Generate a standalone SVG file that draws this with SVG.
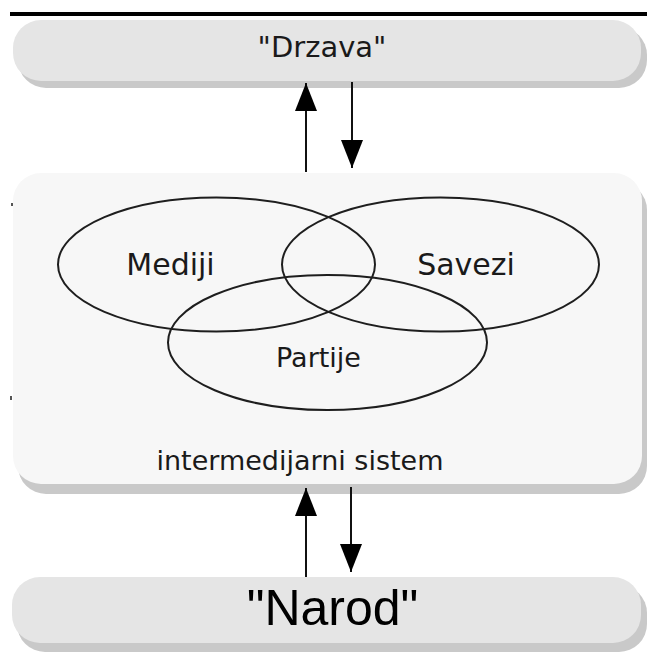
<svg xmlns="http://www.w3.org/2000/svg" width="647" height="652" viewBox="0 0 647 652">
  <defs>
    <style>
      .shadow { fill: #c9c9c9; }
      .pill { fill: #e5e5e5; }
      .panel { fill: #f7f7f7; }
      .venn { fill: none; stroke: #1e1e1e; stroke-width: 2; }
      .conn { stroke: #111111; stroke-width: 2; fill: none; marker-end: url(#head); }
      .lbl { font-family: "DejaVu Sans", Verdana, sans-serif; fill: #1a1a1a; text-anchor: middle; }
      .big { font-family: "Liberation Sans", Arial, sans-serif; fill: #000000; text-anchor: middle; }
    </style>
    <marker id="head" viewBox="0 0 28 22" refX="28" refY="11" markerWidth="28" markerHeight="22" markerUnits="userSpaceOnUse" orient="auto">
      <path d="M0,0 L28,11 L0,22 Z" fill="#000000"/>
    </marker>
  </defs>
  <rect x="0" y="0" width="647" height="652" fill="#ffffff"/>
  <rect x="10" y="12" width="637" height="4" fill="#000000"/>

  <g id="drzava">
    <rect class="shadow" x="18" y="27" width="629" height="61" rx="28" ry="28"/>
    <rect class="pill" x="13" y="20" width="628" height="61" rx="28" ry="28"/>
    <text class="lbl" x="322" y="57" font-size="29">"Drzava"</text>
  </g>

  <g id="intermedijarni-sistem">
    <rect class="shadow" x="18" y="182" width="629" height="312" rx="28" ry="28"/>
    <rect class="panel" x="13" y="173" width="629" height="311" rx="28" ry="28"/>
    <rect x="11" y="203" width="2" height="3" fill="#555555"/>
    <rect x="10" y="396" width="2" height="4" fill="#555555"/>
    <text class="lbl" x="300" y="470" font-size="27">intermedijarni sistem</text>
  </g>

  <g id="mediji">
    <ellipse class="venn" cx="216.5" cy="264.5" rx="158.5" ry="67"/>
    <text class="lbl" x="170.5" y="275" font-size="30">Mediji</text>
  </g>

  <g id="savezi">
    <ellipse class="venn" cx="440.5" cy="264.5" rx="158.5" ry="67"/>
    <text class="lbl" x="466" y="275" font-size="30">Savezi</text>
  </g>

  <g id="partije">
    <ellipse class="venn" cx="327.5" cy="342.5" rx="159.5" ry="67.5"/>
    <text class="lbl" x="318.5" y="367" font-size="27">Partije</text>
  </g>

  <g id="narod">
    <rect class="shadow" x="17" y="585" width="630" height="67" rx="28" ry="28"/>
    <rect class="pill" x="12" y="577" width="629" height="66" rx="28" ry="28"/>
    <text class="big" x="332.5" y="625" font-size="50">"Narod"</text>
  </g>

  <g id="connectors">
    <line class="conn" x1="306" y1="172" x2="306" y2="83"/>
    <line class="conn" x1="352" y1="82" x2="352" y2="168"/>
    <line class="conn" x1="306" y1="577" x2="306" y2="488"/>
    <line class="conn" x1="351" y1="487" x2="351" y2="572"/>
  </g>
</svg>
